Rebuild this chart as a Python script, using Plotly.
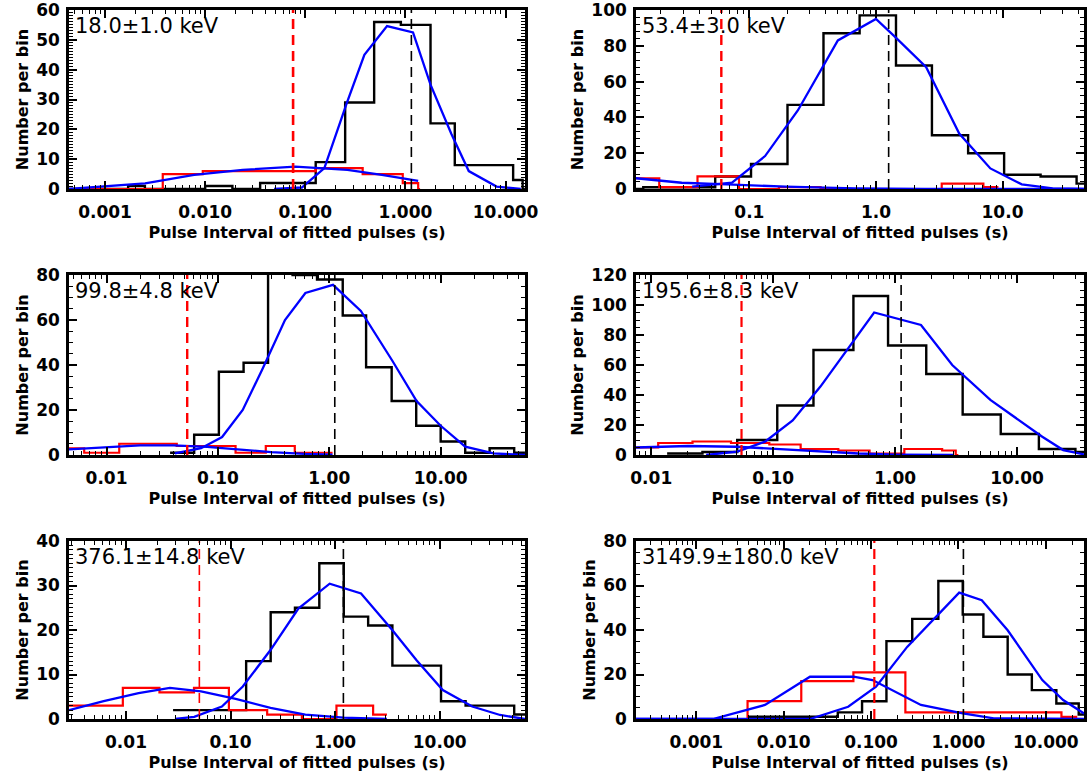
import plotly.graph_objects as go

# ---------------- data (x in seconds, y in counts per bin) ----------------
# Panel 1
p1_label = "18.0±1.0 keV"
p1_black_edges = [0.00043, 0.0017, 0.0025, 0.0100, 0.0187, 0.0354, 0.127, 0.250, 0.487, 0.900, 1.78, 3.11, 11.9, 14.8, 15.6]
p1_black_counts = [0, 1, 0, 1, 0, 2, 9, 29, 56, 55, 22, 8, 3, 0]
p1_red_edges = [0.00043, 0.00377, 0.00946, 0.127, 0.374, 0.94, 1.34, 1.40]
p1_red_counts = [0, 5, 6, 7, 5, 2, 0]
p1_fit_red_x = [0.000437, 0.000977, 0.00251, 0.00776, 0.0237, 0.0794, 0.263, 0.581, 1.34]
p1_fit_red_y = [0, 0.8, 1.9, 4.7, 6.4, 7.5, 6.4, 4.7, 2.7]
p1_fit_black_x = [0.0487, 0.0923, 0.155, 0.261, 0.389, 0.655, 1.19, 1.78, 2.87, 4.29, 8.13, 14.2]
p1_fit_black_y = [0, 0.5, 7, 29, 45, 54.6, 52.5, 35, 18.5, 6, 0.8, 0]
p1_red_dash = 0.0755
p1_black_dash = 1.146

# Panel 2
p2_label = "53.4±3.0 keV"
p2_black_edges = [0.0127, 0.0145, 0.0278, 0.0537, 0.103, 0.200, 0.385, 0.743, 1.44, 2.77, 5.35, 10.3, 20.0, 38.5, 44.1]
p2_black_counts = [0, 1, 1, 7, 14, 47, 87, 97, 69, 30, 20, 8, 7, 3]
p2_red_edges = [0.0127, 0.0194, 0.0389, 0.0828, 0.171, 0.365, 3.31, 7.06, 9.10, 9.5]
p2_red_counts = [6, 1, 7, 0, 1, 0, 3, 1, 0]
p2_fit_black_x = [0.0353, 0.0729, 0.133, 0.242, 0.5, 1.0, 1.416, 2.495, 4.55, 8.02, 14.2, 24.9, 44.1]
p2_fit_black_y = [1.3, 3.5, 18.4, 44, 83, 95, 85, 68, 31, 11.5, 2.6, 0.4, 0]
p2_fit_red_x = [0.0127, 0.0292, 0.0664, 0.194, 0.685, 2.42, 44.1]
p2_fit_red_y = [6, 3.5, 2.6, 1.3, 0.4, 0, 0]
p2_red_dash = 0.060
p2_black_dash = 1.26

# Panel 3
p3_label = "99.8±4.8 keV"
p3_black_edges = [0.0372, 0.0612, 0.102, 0.170, 0.282, 0.468, 0.776, 1.32, 2.14, 3.63, 6.03, 10.0, 16.6, 27.5, 45.7, 57.1]
p3_black_counts = [1, 9, 37, 41, 95, 80, 78, 62, 39, 24, 13, 6, 1, 3, 1]
p3_red_edges = [0.0046, 0.0063, 0.0130, 0.0427, 0.144, 0.269, 0.490, 1.07]
p3_red_counts = [3, 1, 5, 4, 1, 4, 1]
p3_fit_red_x = [0.0046, 0.010, 0.020, 0.040, 0.080, 0.15, 0.30, 0.60, 1.07]
p3_fit_red_y = [2.5, 3.5, 4.3, 4.3, 3.6, 2.5, 1.3, 0.5, 0.2]
p3_fit_black_x = [0.041, 0.0706, 0.109, 0.167, 0.25, 0.40, 0.61, 1.08, 1.92, 3.67, 6.08, 10.0, 16.6, 29.8, 57.1]
p3_fit_black_y = [0.7, 3, 8, 20, 38, 60, 72, 75.6, 64, 42, 24, 13, 3.7, 0.7, 0]
p3_red_dash = 0.053
p3_black_dash = 1.12

# Panel 4
p4_label = "195.6±8.3 keV"
p4_black_edges = [0.0135, 0.0263, 0.0507, 0.108, 0.214, 0.455, 0.875, 1.80, 3.58, 7.35, 15.1, 30.1, 35.4]
p4_black_counts = [1, 2, 10, 33, 70, 106, 73, 54, 27, 14, 4, 2]
p4_red_edges = [0.0075, 0.0114, 0.0218, 0.0451, 0.093, 0.168, 0.342, 0.617, 1.19, 2.43, 3.14, 3.3]
p4_red_counts = [5, 8, 9, 8, 7, 4, 3, 1, 4, 3, 0]
p4_fit_black_x = [0.0282, 0.0507, 0.0857, 0.1445, 0.244, 0.412, 0.673, 1.63, 2.94, 6.04, 10.2, 16.1, 23.9, 35.4]
p4_fit_black_y = [0, 2.2, 8.9, 23, 45.6, 71, 95, 86.7, 60, 36.7, 23.3, 12.2, 3.3, 0.4]
p4_fit_red_x = [0.0075, 0.02, 0.05, 0.1, 0.2, 0.5, 1.0, 3.0]
p4_fit_red_y = [5, 6, 5.5, 4, 2.5, 1, 0.3, 0]
p4_red_dash = 0.055
p4_black_dash = 1.12

# Panel 5
p5_label = "376.1±14.8 keV"
p5_black_edges = [0.0282, 0.141, 0.242, 0.413, 0.706, 1.21, 2.07, 3.53, 10.3, 17.7, 51.6, 65.5]
p5_black_counts = [2, 13, 24, 25, 35, 23, 21, 12, 4, 3, 1]
p5_red_edges = [0.00285, 0.00933, 0.0209, 0.0447, 0.0964, 0.224, 0.481, 1.03, 2.31, 3.13]
p5_red_counts = [3, 7, 6, 7, 2, 1, 0, 3, 1]
p5_fit_red_x = [0.00285, 0.00612, 0.0132, 0.0263, 0.0522, 0.112, 0.241, 0.519, 1.2, 3.13]
p5_fit_red_y = [2.0, 4.0, 5.8, 7.0, 6.2, 4.5, 2.5, 1.0, 0.3, 0]
p5_fit_black_x = [0.0294, 0.0449, 0.0826, 0.131, 0.241, 0.445, 0.887, 1.77, 3.52, 6.01, 10.7, 20.5, 37.8, 65.5]
p5_fit_black_y = [0, 0.5, 2.8, 7.3, 15.5, 24.8, 30.4, 28.2, 20, 13.2, 6.5, 2.8, 0.9, 0]
p5_red_dash = 0.0503
p5_black_dash = 1.2

# Panel 6
p6_label = "3149.9±180.0 keV"
p6_black_edges = [0.00386, 0.0416, 0.0789, 0.150, 0.296, 0.589, 1.12, 1.93, 3.66, 6.92, 13.2, 23.8, 27.4]
p6_black_counts = [1, 3, 8, 35, 45, 62, 47, 37, 20, 13, 7, 2]
p6_red_edges = [0.000204, 0.00386, 0.0159, 0.0628, 0.247, 15.1, 22.9]
p6_red_counts = [0, 8, 17, 21, 3, 1]
p6_fit_red_x = [0.000204, 0.00155, 0.00611, 0.02, 0.0628, 0.104, 0.372, 1.12, 2.54, 27.4]
p6_fit_red_y = [0, 0, 6.3, 19, 19, 17.5, 6.3, 2.5, 0.3, 0]
p6_fit_black_x = [0.000204, 0.02, 0.0547, 0.114, 0.259, 0.49, 1.02, 1.85, 3.66, 9.12, 15.8, 27.4]
p6_fit_black_y = [0, 0, 5.5, 14.5, 32.4, 43.6, 56.8, 53.4, 39.9, 17.5, 8.5, 2.5]
p6_red_dash = 0.109
p6_black_dash = 1.14

# axis settings per panel (log10 x range, y range, tick format, y major / minor step)
x_ranges = [(-3.36, 1.194), (-1.896, 1.644), (-2.337, 1.757), (-2.125, 1.549), (-2.545, 1.816), (-3.69, 1.437)]
y_ranges = [(0, 60), (0, 100), (0, 80), (0, 120), (0, 40), (0, 80)]
x_formats = [".3f", ".1f", ".2f", ".2f", ".2f", ".3f"]
y_major = [10, 20, 20, 20, 10, 20]
y_minor = [1, 4, 5, 5, 1, 5]
red_dash_width = [2.6, 2.4, 2.4, 2.2, 1.6, 2.2]

x_title = "Pulse Interval of fitted pulses (s)"
y_title = "Number per bin"

panels = [
    (p1_label, p1_black_edges, p1_black_counts, p1_red_edges, p1_red_counts,
     [(p1_fit_red_x, p1_fit_red_y), (p1_fit_black_x, p1_fit_black_y)], p1_red_dash, p1_black_dash),
    (p2_label, p2_black_edges, p2_black_counts, p2_red_edges, p2_red_counts,
     [(p2_fit_red_x, p2_fit_red_y), (p2_fit_black_x, p2_fit_black_y)], p2_red_dash, p2_black_dash),
    (p3_label, p3_black_edges, p3_black_counts, p3_red_edges, p3_red_counts,
     [(p3_fit_red_x, p3_fit_red_y), (p3_fit_black_x, p3_fit_black_y)], p3_red_dash, p3_black_dash),
    (p4_label, p4_black_edges, p4_black_counts, p4_red_edges, p4_red_counts,
     [(p4_fit_red_x, p4_fit_red_y), (p4_fit_black_x, p4_fit_black_y)], p4_red_dash, p4_black_dash),
    (p5_label, p5_black_edges, p5_black_counts, p5_red_edges, p5_red_counts,
     [(p5_fit_red_x, p5_fit_red_y), (p5_fit_black_x, p5_fit_black_y)], p5_red_dash, p5_black_dash),
    (p6_label, p6_black_edges, p6_black_counts, p6_red_edges, p6_red_counts,
     [(p6_fit_red_x, p6_fit_red_y), (p6_fit_black_x, p6_fit_black_y)], p6_red_dash, p6_black_dash),
]

# ---------------- layout geometry (pixels) ----------------
W, H = 1088, 777
col_px = [(69, 525), (636, 1084)]
row_px = [(10, 189), (275, 455), (541, 719)]

FONT = "DejaVu Sans"
fig = go.Figure()


def step_xy(edges, counts):
    return list(edges), list(counts) + [counts[-1]]


layout = dict(width=W, height=H, margin=dict(l=0, r=0, t=0, b=0, autoexpand=False),
              paper_bgcolor="white", plot_bgcolor="white", showlegend=False,
              font=dict(family=FONT, color="black"))
annotations = []
tick_font = dict(family=FONT, size=17, color="black", weight="bold")
title_font = dict(family=FONT, size=16, color="black", weight="bold")

for i, (label, be, bc, re_, rc, fits, rdash, bdash) in enumerate(panels):
    r, c = divmod(i, 2)
    n = "" if i == 0 else str(i + 1)
    xa, ya = "x" + n, "y" + n
    x0, x1 = col_px[c]
    t0, t1 = row_px[r]
    ymin, ymax = y_ranges[i]

    bx, by = step_xy(be, bc)
    fig.add_trace(go.Scatter(x=bx, y=by, mode="lines", line_shape="hv",
                             line=dict(color="black", width=2.4), xaxis=xa, yaxis=ya))
    rx, ry = step_xy(re_, rc)
    fig.add_trace(go.Scatter(x=rx, y=ry, mode="lines", line_shape="hv",
                             line=dict(color="#ff0000", width=2.2), xaxis=xa, yaxis=ya))
    for fx, fy in fits:
        fig.add_trace(go.Scatter(x=fx, y=fy, mode="lines",
                                 line=dict(color="#0000ff", width=2.3), xaxis=xa, yaxis=ya))
    fig.add_trace(go.Scatter(x=[rdash, rdash], y=[ymin, ymax], mode="lines",
                             line=dict(color="#ff0000", width=red_dash_width[i], dash="10px,6px"),
                             xaxis=xa, yaxis=ya))
    fig.add_trace(go.Scatter(x=[bdash, bdash], y=[ymin, ymax], mode="lines",
                             line=dict(color="black", width=1.6, dash="10px,6px"), xaxis=xa, yaxis=ya))

    xkey = "xaxis" + n
    ykey = "yaxis" + n
    layout[xkey] = dict(
        type="log", range=list(x_ranges[i]), domain=[x0 / W, x1 / W], anchor=ya,
        automargin=False, ticklabeloverflow="allow",
        dtick=1, tickformat=x_formats[i], ticks="inside", ticklen=8, tickwidth=1.5,
        tickcolor="black", showline=True, linecolor="black", linewidth=2.5, mirror="allticks",
        showgrid=False, zeroline=False, tickfont=tick_font, ticklabelstandoff=6,
        minor=dict(ticks="inside", ticklen=4, tickwidth=1, tickcolor="black", showgrid=False),
        title=dict(text=x_title, font=title_font, standoff=6),
    )
    layout[ykey] = dict(
        range=[ymin, ymax], domain=[1 - t1 / H, 1 - t0 / H], anchor=xa,
        automargin=False, ticklabeloverflow="allow",
        dtick=y_major[i], ticks="inside", ticklen=8, tickwidth=1.5, tickcolor="black",
        showline=True, linecolor="black", linewidth=2.5, mirror="allticks",
        showgrid=False, zeroline=False, tickfont=tick_font, ticklabelstandoff=3,
        minor=dict(ticks="inside", ticklen=4, tickwidth=1, tickcolor="black",
                   dtick=y_minor[i], showgrid=False),
        title=dict(text=y_title, font=title_font, standoff=4),
    )
    annotations.append(dict(text=label, xref=xa + " domain", yref=ya + " domain",
                            x=0, y=1, xshift=4, yshift=-2, xanchor="left", yanchor="top",
                            showarrow=False, font=dict(family=FONT, size=21, color="black")))

layout["annotations"] = annotations
fig.update_layout(**layout)
# remove the browser's default 8px page margin so the figure sits at the window's corner
fig.write_html("out.html", config={"displayModeBar": False},
               post_script="document.body.style.margin='0px';document.body.style.padding='0px';")
